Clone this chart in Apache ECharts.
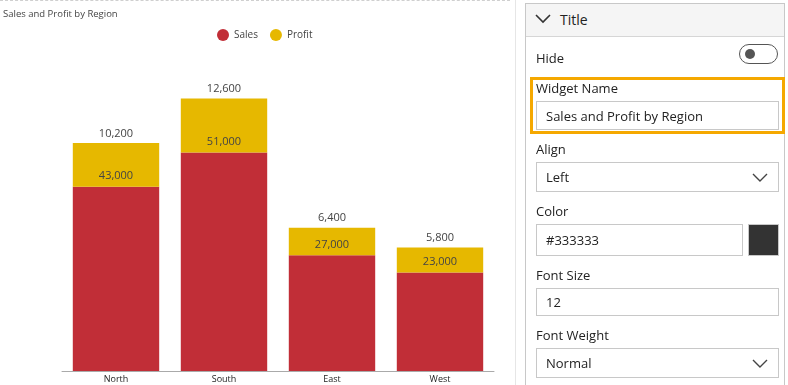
<!DOCTYPE html>
<html><head><meta charset="utf-8">
<script src="https://cdn.jsdelivr.net/npm/echarts@6/dist/echarts.min.js"></script>
<style>
html,body{margin:0;padding:0;background:#fff;width:788px;height:385px;overflow:hidden;font-family:"Open Sans",sans-serif;}
#chart{position:absolute;left:0;top:0;width:526px;height:385px;}
#dash{position:absolute;left:0;top:0;width:510px;height:0;border-top:1px dashed #cfcfcf;}
#vline{position:absolute;left:515px;top:0;width:1px;height:385px;background:#e6e6e6;}
#panel{position:absolute;left:525px;top:3px;width:260px;height:400px;border:1px solid #c8c8c8;box-sizing:border-box;color:#222;}
#hdr{height:32px;background:#f5f5f5;border-bottom:1px solid #d6d6d6;position:relative;}
#hdr svg{position:absolute;left:9px;top:10px;}
#hdr span{position:absolute;left:34px;top:6px;font-size:14px;}
.lbl{position:absolute;left:10px;font-size:13px;color:#222;}
.box{position:absolute;left:10px;width:243px;border:1px solid #c8c8c8;box-sizing:border-box;background:#fff;font-size:13px;}
.box span{position:absolute;left:9px;}
.chev{position:absolute;right:10px;}
</style></head><body>
<div id="chart"></div>
<div id="dash"></div>
<div id="vline"></div>
<div id="panel">
  <div id="hdr"><svg width="16" height="10" viewBox="0 0 16 10"><polyline points="1,1 8,8 15,1" fill="none" stroke="#333" stroke-width="1.6"/></svg><span>Title</span></div>
  <div class="lbl" style="top:45px">Hide</div>
  <div style="position:absolute;left:213px;top:40px;width:39px;height:20px;border:1px solid #555;border-radius:11px;box-sizing:border-box;">
    <div style="position:absolute;left:5px;top:4px;width:10px;height:10px;border-radius:50%;background:#555;"></div></div>
  <div style="position:absolute;left:4px;top:73px;width:255px;height:57px;border:3px solid #f5a800;box-sizing:border-box;"></div>
  <div class="lbl" style="top:75px">Widget Name</div>
  <div class="box" style="top:97px;height:29px;"><span style="top:5px">Sales and Profit by Region</span></div>
  <div class="lbl" style="top:136px">Align</div>
  <div class="box" style="top:158px;height:30px;"><span style="top:5px">Left</span>
    <svg class="chev" style="top:10px" width="16" height="10" viewBox="0 0 16 10"><polyline points="1,1 8,8 15,1" fill="none" stroke="#444" stroke-width="1.4"/></svg></div>
  <div class="lbl" style="top:198px">Color</div>
  <div class="box" style="top:220px;height:32px;width:207px;"><span style="top:6px">#333333</span></div>
  <div style="position:absolute;left:222px;top:220px;width:31px;height:32px;background:#333;border:1px solid #c8c8c8;box-sizing:border-box;"></div>
  <div class="lbl" style="top:262px">Font Size</div>
  <div class="box" style="top:284px;height:28px;"><span style="top:4px">12</span></div>
  <div class="lbl" style="top:322px">Font Weight</div>
  <div class="box" style="top:344px;height:30px;"><span style="top:5px">Normal</span>
    <svg class="chev" style="top:10px" width="16" height="10" viewBox="0 0 16 10"><polyline points="1,1 8,8 15,1" fill="none" stroke="#444" stroke-width="1.4"/></svg></div>
</div>
<script>
const categories = ['North', 'South', 'East', 'West'];
const sales = [43000, 51000, 27000, 23000];
const profit = [10200, 12600, 6400, 5800];
const seriesNames = ['Sales', 'Profit'];

const chart = echarts.init(document.getElementById('chart'), null, {renderer: 'canvas'});
const fmt = p => p.value.toLocaleString('en-US');
chart.setOption({
  animation: false,
  textStyle: {fontFamily: 'Open Sans, sans-serif'},
  title: {text: 'Sales and Profit by Region', left: 0, top: 0, padding: [9, 3],
    textStyle: {fontSize: 9.5, fontWeight: 'normal', color: '#444'}},
  legend: {data: seriesNames, top: 24, left: 212, icon: 'circle', itemWidth: 12, itemHeight: 12, itemGap: 12,
    textStyle: {fontSize: 10, color: '#444'}},
  grid: {left: 62, right: 32, top: 71, bottom: 14},
  xAxis: {type: 'category', data: categories,
    axisLine: {lineStyle: {color: '#aaa'}},
    axisTick: {alignWithLabel: true, length: 4, lineStyle: {color: '#aaa'}},
    axisLabel: {fontSize: 9, color: '#222', margin: 4}},
  yAxis: {type: 'value', min: 0, max: 70000, show: false},
  series: [
    {name: 'Sales', type: 'bar', stack: 'a', data: sales, barWidth: '80%',
      itemStyle: {color: '#c12e37'},
      label: {show: true, position: 'top', formatter: fmt, fontSize: 11, color: '#444'}},
    {name: 'Profit', type: 'bar', stack: 'a', data: profit, barWidth: '80%',
      itemStyle: {color: '#e6b800'},
      label: {show: true, position: 'top', distance: 4, formatter: fmt, fontSize: 11, color: '#444'}}
  ]
});
</script>
</body></html>
